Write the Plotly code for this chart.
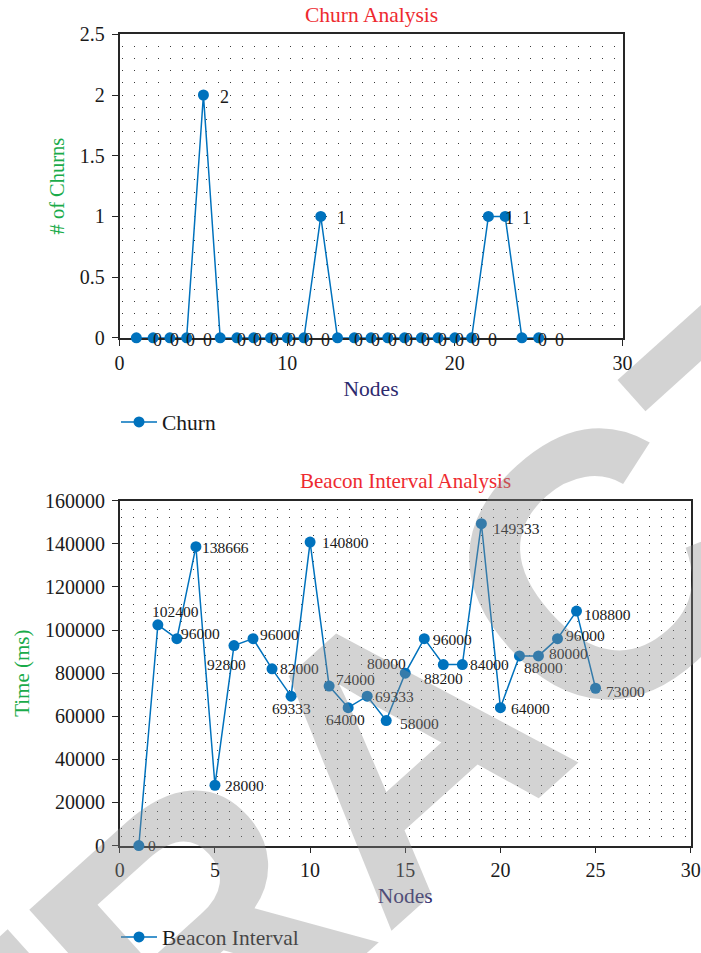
import plotly.graph_objects as go

# ---- data -------------------------------------------------------------
nodes = list(range(1, 26))

churn = [0, 0, 0, 0, 2, 0, 0, 0, 0, 0, 0, 1, 0, 0, 0, 0, 0, 0, 0, 0, 0, 1, 1, 0, 0]
churn_labels = [str(v) for v in churn]

beacon = [0, 102400, 96000, 138666, 28000, 92800, 96000, 82000, 69333, 140800,
          74000, 64000, 69333, 58000, 80000, 96000, 84000, 84000, 149333, 64000,
          88000, 88000, 96000, 108800, 73000]
beacon_labels = ["0", "102400", "96000", "138666", "28000", "92800", "96000", "82000",
                 "69333", "140800", "74000", "64000", "69333", "58000", "80000", "96000",
                 "88200", "84000", "149333", "64000", "88000", "80000", "96000", "108800",
                 "73000"]

churn_ticks = [0, 0.5, 1, 1.5, 2, 2.5]
beacon_ticks = [0, 20000, 40000, 60000, 80000, 100000, 120000, 140000, 160000]

# ---- label placement (pixel offsets of the label centre from its point) ----
beacon_dx = [13, 18, 24, 30, 30, -7, 26, 27, 0, 35, 26, -3, 27, 33, -19, 28, 0, 27, 35, 30,
             24, 30, 28, 31, 30]
beacon_dy = [0, -13, -5, 1, 0, 19, -4, 0, 12, 0, -7, 12, 0, 3, -10, 1, 14, 0, 5, 1,
             12, -2, -3, 3, 3]
churn_dx, churn_dy = 21, 2

# ---- page geometry ----------------------------------------------------
W, H = 701, 953
BLUE = "#0072BD"
SERIF = "Liberation Serif"
AXIS_COL = "#262626"
GRID_COL = "#3a3a3a"


def px_x(p):
    return p / W


def px_y(p):
    return 1 - p / H


top_x = [px_x(119.6), px_x(622.5)]
top_y = [px_y(337.8), px_y(34.3)]
bot_x = [px_x(119.8), px_x(690.7)]
bot_y = [px_y(845.6), px_y(500.7)]

fig = go.Figure()

fig.add_trace(go.Scatter(
    x=nodes, y=churn, mode="lines+markers", name="Churn",
    line=dict(color=BLUE, width=1.5), marker=dict(color=BLUE, size=11),
    cliponaxis=False, xaxis="x", yaxis="y", legend="legend",
))
fig.add_trace(go.Scatter(
    x=nodes, y=beacon, mode="lines+markers", name="Beacon Interval",
    line=dict(color=BLUE, width=1.5), marker=dict(color=BLUE, size=11),
    cliponaxis=False, xaxis="x2", yaxis="y2", legend="legend2",
))

annotations = []
for xv, yv, t in zip(nodes, churn, churn_labels):
    annotations.append(dict(
        x=xv, y=yv, xref="x", yref="y", text=t, showarrow=False,
        xshift=churn_dx, yshift=-churn_dy, xanchor="center", yanchor="middle",
        font=dict(family=SERIF, size=18, color="#1a1a1a"),
    ))
for xv, yv, t, dx, dy in zip(nodes, beacon, beacon_labels, beacon_dx, beacon_dy):
    annotations.append(dict(
        x=xv, y=yv, xref="x2", yref="y2", text=t, showarrow=False,
        xshift=dx, yshift=-dy, xanchor="center", yanchor="middle",
        font=dict(family=SERIF, size=15.5, color="#1a1a1a"),
    ))

# panel titles
annotations.append(dict(
    x=sum(top_x) / 2, y=px_y(15), xref="paper", yref="paper", text="Churn Analysis",
    showarrow=False, xanchor="center", yanchor="middle",
    font=dict(family=SERIF, size=21.5, color="#ee2a2f"),
))
annotations.append(dict(
    x=sum(bot_x) / 2, y=px_y(481), xref="paper", yref="paper",
    text="Beacon Interval Analysis",
    showarrow=False, xanchor="center", yanchor="middle",
    font=dict(family=SERIF, size=21, color="#ee2a2f"),
))

# diagonal watermark
annotations.append(dict(
    x=px_x(398), y=px_y(750), xref="paper", yref="paper", text="<b>RETRACTED</b>",
    showarrow=False, xanchor="center", yanchor="middle", textangle=-42,
    font=dict(family="Liberation Sans", size=375, color="rgba(140,140,140,0.38)"),
))


def axis_common():
    return dict(
        showline=True, linecolor=AXIS_COL, linewidth=1.5, mirror=True,
        ticks="outside", ticklen=6, tickwidth=1.2, tickcolor=AXIS_COL,
        tickfont=dict(family=SERIF, size=20, color="#1a1a1a"),
        zeroline=False, layer="below traces", automargin=False,
    )


fig.update_layout(
    width=W, height=H,
    margin=dict(l=0, r=0, t=0, b=0, autoexpand=False),
    paper_bgcolor="white", plot_bgcolor="white",
    showlegend=True,
    xaxis=dict(
        domain=top_x, anchor="y", range=[0, 30], tickvals=[0, 10, 20, 30],
        showgrid=False,
        title=dict(text="Nodes", font=dict(family=SERIF, size=21.5, color="#2d2a6e"), standoff=8),
        **axis_common(),
    ),
    yaxis=dict(
        domain=top_y, anchor="x", range=[0, 2.5], tickvals=churn_ticks,
        ticklabelstandoff=3,
        showgrid=True, gridcolor=GRID_COL, gridwidth=1, griddash="0px,2px,1px,9px",
        minor=dict(dtick=0.1, showgrid=True, gridcolor=GRID_COL, gridwidth=1,
                   griddash="0px,2px,1px,9px"),
        title=dict(text="# of Churns", font=dict(family=SERIF, size=20.5, color="#1aab4a"), standoff=10),
        **axis_common(),
    ),
    xaxis2=dict(
        domain=bot_x, anchor="y2", range=[0, 30], tickvals=[0, 5, 10, 15, 20, 25, 30],
        showgrid=False,
        title=dict(text="Nodes", font=dict(family=SERIF, size=21.5, color="#2d2a6e"), standoff=8),
        **axis_common(),
    ),
    yaxis2=dict(
        domain=bot_y, anchor="x2", range=[0, 160000], tickvals=beacon_ticks,
        tickformat="d", ticklabelstandoff=3,
        showgrid=True, gridcolor=GRID_COL, gridwidth=1, griddash="0px,1px,1px,10px",
        minor=dict(dtick=4000, showgrid=True, gridcolor=GRID_COL, gridwidth=1,
                   griddash="0px,1px,1px,10px"),
        title=dict(text="Time (ms)", font=dict(family=SERIF, size=21, color="#1aab4a"), standoff=10),
        **axis_common(),
    ),
    legend=dict(
        x=px_x(116), y=px_y(422), xanchor="left", yanchor="middle", itemwidth=36,
        font=dict(family=SERIF, size=21.5, color="#1a1a1a"), bgcolor="rgba(0,0,0,0)",
    ),
    legend2=dict(
        x=px_x(116), y=px_y(937), xanchor="left", yanchor="middle", itemwidth=36,
        font=dict(family=SERIF, size=21.5, color="#1a1a1a"), bgcolor="rgba(0,0,0,0)",
    ),
    annotations=annotations,
)

fig.write_html("out.html")
